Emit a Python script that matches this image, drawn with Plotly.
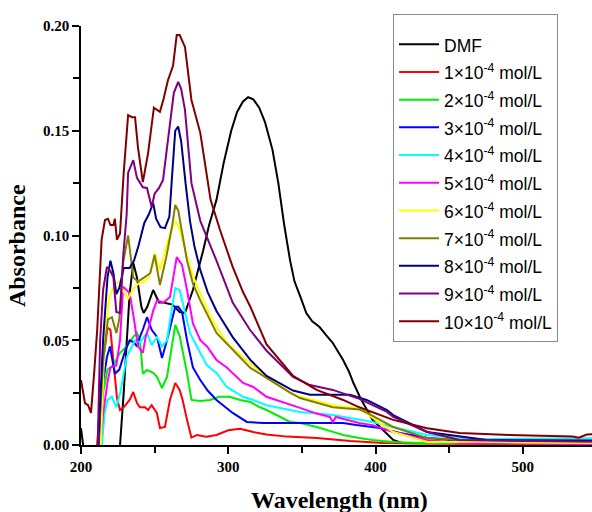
import plotly.graph_objects as go

# ---------------- data ----------------
dmf_x = [200, 202, 205, 224, 226.5, 229, 233, 235.5, 238, 241, 242.5, 245, 249, 253, 256, 262, 267, 270.6,
         276, 283, 287, 292, 297, 302, 306, 310, 313.5, 317, 321, 325, 330, 334, 338, 342, 345, 349, 353,
         357, 362, 367, 371, 375, 378, 382, 385, 390, 394, 398, 403, 408, 412, 418, 430, 460, 500, 550]
dmf_y = [0.008, -0.005, -0.02, -0.02, 0.0, 0.025, 0.072, 0.087, 0.08, 0.066, 0.063, 0.066, 0.074, 0.068,
         0.068, 0.067, 0.0635, 0.063, 0.074, 0.093, 0.105, 0.117, 0.135, 0.150, 0.159, 0.164, 0.166, 0.165,
         0.161, 0.154, 0.141, 0.125, 0.105, 0.088, 0.078, 0.0707, 0.063, 0.059, 0.0563, 0.052, 0.0487, 0.044,
         0.0406, 0.035, 0.0296, 0.022, 0.0167, 0.012, 0.0086, 0.005, 0.0024, 0.001, 0.0008, 0.001, 0.0008, 0.0008]

c1_x = [210, 213, 215, 218, 220, 222, 224.5, 226.5, 229, 233, 235.5, 238, 240, 243.5, 245.5, 248, 251.5,
        253.6, 257, 260.4, 264, 267, 269, 272, 275, 278.7, 285, 292, 300, 308, 317, 326, 340, 360, 383,
        405, 430, 470, 520, 550]
c1_y = [-0.01, 0.02, 0.04, 0.056, 0.055, 0.04, 0.022, 0.0167, 0.018, 0.0215, 0.0253, 0.02, 0.018, 0.018,
        0.0167, 0.019, 0.0153, 0.0081, 0.0086, 0.0215, 0.0296, 0.0263, 0.0215, 0.012, 0.0035, 0.0048, 0.004,
        0.0048, 0.007, 0.0078, 0.0062, 0.005, 0.004, 0.0033, 0.0019, 0.001, 0.0008, 0.0005, 0.0005, 0.0005]

c2_x = [212, 215, 218, 222, 226.5, 231, 235.5, 238, 240, 242, 244.8, 249, 251.6, 255, 258.4, 261, 264, 267,
        269, 272, 275, 281, 287.6, 294, 301, 308, 315, 321.5, 326, 335, 342, 349, 360, 370, 378, 389, 398,
        412, 430, 450, 480, 550]
c2_y = [-0.01, 0.025, 0.036, 0.038, 0.044, 0.047, 0.0516, 0.0535, 0.05, 0.034, 0.0358, 0.0344, 0.0325,
        0.0272, 0.0325, 0.045, 0.0573, 0.052, 0.0453, 0.0344, 0.0215, 0.021, 0.0215, 0.023, 0.023, 0.0215,
        0.0205, 0.018, 0.0167, 0.0134, 0.011, 0.0105, 0.0086, 0.0065, 0.0048, 0.0033, 0.0024, 0.0014, 0.001,
        0.001, 0.0008, 0.0008]

c3_x = [212, 215, 217.6, 219.7, 223, 226, 230, 233, 236, 238, 240, 242, 244.8, 248, 251.6, 255, 258.4, 261,
        264, 266, 268.6, 272, 276, 281, 286, 292, 303, 312.6, 323.6, 345, 378, 387, 398, 403, 416.6, 435,
        450, 480, 550]
c3_y = [-0.01, 0.03, 0.042, 0.047, 0.034, 0.036, 0.045, 0.05, 0.049, 0.047, 0.0516, 0.055, 0.061, 0.055,
        0.0516, 0.0415, 0.05, 0.058, 0.066, 0.066, 0.0635, 0.05, 0.037, 0.031, 0.026, 0.0215, 0.0153, 0.011,
        0.0105, 0.0105, 0.0105, 0.0095, 0.0086, 0.0081, 0.0057, 0.0035, 0.0024, 0.0024, 0.0022]

c4_x = [213, 216, 218, 221, 224, 227, 231, 236.7, 240, 244.8, 248, 251.6, 255, 258.4, 261, 264, 267, 270,
        274, 281, 285.6, 292, 299, 310, 317, 326, 335, 348.7, 371, 389, 398, 412, 435, 469, 500, 550]
c4_y = [-0.01, 0.015, 0.0215, 0.023, 0.018, 0.026, 0.042, 0.05, 0.049, 0.0535, 0.0477, 0.0516, 0.047, 0.05,
        0.062, 0.0749, 0.074, 0.065, 0.0535, 0.0439, 0.038, 0.0344, 0.0277, 0.023, 0.0215, 0.019, 0.0177,
        0.0158, 0.0143, 0.012, 0.011, 0.0086, 0.0048, 0.0028, 0.003, 0.0033]

c5_x = [212, 215, 218, 220, 224, 226.5, 228.6, 231, 233, 236, 238.7, 240, 242, 244, 246, 249, 251.6, 256,
        260.4, 265, 268.6, 272, 276, 281, 285.6, 292, 299, 310, 317, 326, 335, 348.7, 360, 369, 371, 373,
        389, 398, 412, 435, 457, 550]
c5_y = [-0.01, 0.015, 0.03, 0.037, 0.038, 0.05, 0.0755, 0.074, 0.0725, 0.06, 0.047, 0.046, 0.044, 0.052,
        0.056, 0.064, 0.069, 0.068, 0.0706, 0.0897, 0.086, 0.074, 0.058, 0.05, 0.047, 0.0406, 0.037, 0.0296,
        0.0277, 0.023, 0.021, 0.0177, 0.015, 0.0134, 0.011, 0.0134, 0.0105, 0.0095, 0.0062, 0.0024, 0.001,
        0.0005]

c6_x = [213, 216, 219, 223, 226, 229, 232, 236, 239, 243, 246, 248, 250, 253.6, 258, 262, 264.5, 267, 270,
        274, 278, 281, 286, 292, 300, 315, 328, 342, 348.7, 371, 389, 394, 412, 435, 470, 500, 550]
c6_y = [-0.01, 0.05, 0.07, 0.077, 0.078, 0.073, 0.07, 0.075, 0.077, 0.078, 0.08, 0.085, 0.0916, 0.0835,
        0.095, 0.104, 0.1065, 0.103, 0.095, 0.085, 0.077, 0.0725, 0.064, 0.0563, 0.048, 0.039, 0.031, 0.0248,
        0.023, 0.019, 0.0175, 0.015, 0.0062, 0.0014, 0.0015, 0.0012, 0.001]

c7_x = [211, 215, 218.3, 221, 224, 226, 228.6, 232, 235.5, 238.7, 243, 247, 250, 253.6, 258, 262, 264, 266,
        269, 272, 276, 281, 292, 315, 342, 348.7, 371, 389, 394, 412, 435, 460, 550]
c7_y = [-0.01, 0.04, 0.06, 0.061, 0.0535, 0.06, 0.087, 0.1, 0.08, 0.078, 0.08, 0.082, 0.0907, 0.0764, 0.09,
        0.105, 0.1146, 0.112, 0.1, 0.088, 0.077, 0.069, 0.0535, 0.0368, 0.025, 0.0224, 0.018, 0.017, 0.0155,
        0.0086, 0.0033, 0.0024, 0.002]

c8_x = [211, 215, 218, 220, 222, 224, 226, 229, 233, 236, 239, 243, 246, 249, 251, 254, 257, 260, 262, 264,
        266, 268, 271, 274, 277, 281, 286, 292, 303, 315, 326, 344, 355.5, 382.6, 394, 407.8, 412, 435,
        475.6, 550]
c8_y = [-0.01, 0.05, 0.08, 0.088, 0.082, 0.072, 0.075, 0.0845, 0.0845, 0.088, 0.095, 0.106, 0.11, 0.1155,
        0.108, 0.104, 0.1035, 0.109, 0.13, 0.15, 0.152, 0.145, 0.125, 0.107, 0.095, 0.0835, 0.073, 0.064,
        0.0515, 0.0406, 0.033, 0.026, 0.024, 0.024, 0.0215, 0.0167, 0.0143, 0.0062, 0.0024, 0.002]

c9_x = [211, 213, 215, 217.6, 220, 222, 224, 226.5, 228.6, 231, 232, 235.5, 238, 242, 244.8, 248, 250, 253,
        255.7, 259, 263, 266, 268, 270.6, 275, 281, 287, 292, 303, 314.7, 326, 344, 355.5, 371, 389, 407.8,
        412, 435, 457, 550]
c9_y = [-0.01, 0.05, 0.074, 0.085, 0.083, 0.08, 0.0635, 0.063, 0.0897, 0.11, 0.13, 0.136, 0.1275, 0.123,
        0.1227, 0.1136, 0.12, 0.1227, 0.1265, 0.145, 0.168, 0.1733, 0.17, 0.16, 0.125, 0.107, 0.097, 0.088,
        0.068, 0.055, 0.045, 0.0325, 0.0286, 0.0263, 0.022, 0.0158, 0.0134, 0.0062, 0.0024, 0.0015]

c10_x = [200, 202.7, 204.8, 206.8, 209, 211, 214, 216.3, 218.3, 220, 222, 223, 224.4, 226.5, 229, 232,
         234.6, 236.7, 238.7, 242, 245.5, 249.5, 253.6, 256, 259, 262.5, 265, 267, 270.6, 275, 281, 288,
         294.4, 303, 310, 315, 326, 344, 360, 378, 389, 398, 412, 435, 457, 491, 534, 538, 543.5, 550]
c10_y = [0.031, 0.02, 0.019, 0.0153, 0.035, 0.055, 0.098, 0.1074, 0.108, 0.105, 0.105, 0.108, 0.098, 0.101,
         0.13, 0.1575, 0.1565, 0.1565, 0.142, 0.1255, 0.139, 0.161, 0.159, 0.165, 0.174, 0.181, 0.1957,
         0.1957, 0.19, 0.1647, 0.149, 0.117, 0.1026, 0.085, 0.073, 0.066, 0.048, 0.033, 0.0263, 0.0215,
         0.018, 0.0158, 0.012, 0.008, 0.0057, 0.0048, 0.004, 0.0035, 0.005, 0.0053]

series_names = ["DMF"] + [f"{i}×10<sup>-4</sup> mol/L" for i in range(1, 11)]
series_x = [dmf_x, c1_x, c2_x, c3_x, c4_x, c5_x, c6_x, c7_x, c8_x, c9_x, c10_x]
series_y = [dmf_y, c1_y, c2_y, c3_y, c4_y, c5_y, c6_y, c7_y, c8_y, c9_y, c10_y]
series_colors = ["#000000", "#ff0000", "#00ee00", "#0000ff", "#00ffff", "#ff00ff",
                 "#ffff00", "#808000", "#000080", "#800080", "#800000"]

x_ticks = [200, 300, 400, 500]
y_ticks = [0.00, 0.05, 0.10, 0.15, 0.20]

# ---------------- figure ----------------
fig = go.Figure()
for name, xs, ys, col in zip(series_names, series_x, series_y, series_colors):
    fig.add_trace(go.Scatter(x=xs, y=ys, mode="lines",
                             name=f'<span style="font-size:17.5px">{name}</span>',
                             line=dict(color=col, width=2)))

serif = "Liberation Serif, Times New Roman, serif"
sans = "Liberation Sans, Arial, sans-serif"

fig.update_layout(
    width=592, height=512,
    margin=dict(l=81, r=0, t=26, b=67),
    plot_bgcolor="white", paper_bgcolor="white",
    showlegend=True,
    legend=dict(x=0.6106, y=1.0286, xanchor="left", yanchor="top",
                bgcolor="white", bordercolor="#8a8a8a", borderwidth=1,
                font=dict(family=sans, size=19, color="black"),
                title=dict(text=" ", font=dict(size=8)),
                tracegroupgap=0, itemwidth=40, maxheight=480),
    xaxis=dict(range=[200, 547], showgrid=False, zeroline=False,
               showline=True, linecolor="black", linewidth=1.5,
               ticks="outside", ticklen=7, tickwidth=1.5, tickcolor="black",
               tickvals=x_ticks, ticktext=[f"<b>{v}</b>" for v in x_ticks],
               minor=dict(ticks="outside", ticklen=6, tickwidth=1.5, tickcolor="black", dtick=50, tick0=200),
               tickfont=dict(family=serif, size=15, color="black")),
    yaxis=dict(range=[0, 0.2], showgrid=False, zeroline=False,
               showline=True, linecolor="black", linewidth=1.5,
               ticks="outside", ticklen=7, tickwidth=1.5, tickcolor="black",
               tickvals=y_ticks, ticktext=[f"<b>{v:.2f}</b>" for v in y_ticks],
               minor=dict(ticks="outside", ticklen=6, tickwidth=1.5, tickcolor="black", dtick=0.025, tick0=0),
               tickfont=dict(family=serif, size=15, color="black")),
    annotations=[
        dict(text="<b>Wavelength (nm)</b>", xref="paper", yref="paper", x=0.505, y=-0.131,
             xanchor="center", yanchor="middle", showarrow=False,
             font=dict(family=serif, size=24, color="black")),
        dict(text="<b>Absorbance</b>", xref="paper", yref="paper", x=-0.125, y=0.475,
             xanchor="center", yanchor="middle", showarrow=False, textangle=-90,
             font=dict(family=serif, size=24, color="black")),
    ],
)

fig.write_html("out.html")
